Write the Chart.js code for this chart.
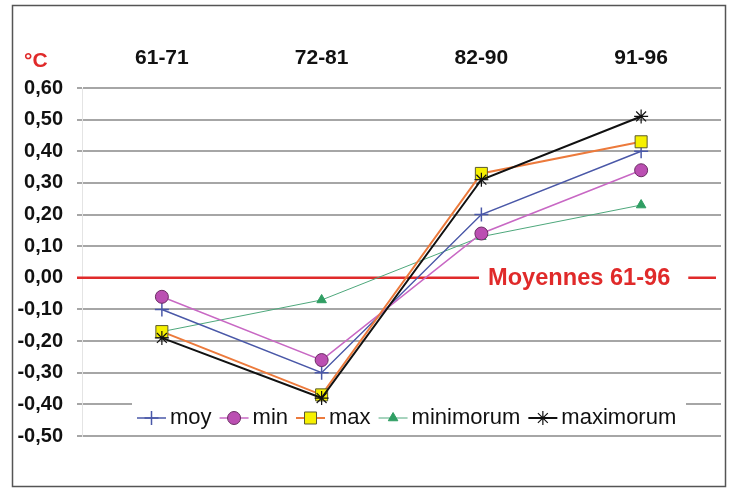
<!DOCTYPE html>
<html>
<head>
<meta charset="utf-8">
<script src="https://cdn.jsdelivr.net/npm/chart.js@4/dist/chart.umd.min.js"></script>
<style>
  html, body { margin: 0; padding: 0; background: #fff; }
  canvas { display: block; }
</style>
</head>
<body>
<canvas id="myChart" width="732" height="488"></canvas>
<script>
const categories = ['61-71', '72-81', '82-90', '91-96'];
const moy = [-0.10, -0.30, 0.20, 0.40];
const minValues = [-0.06, -0.26, 0.14, 0.34];
const maxValues = [-0.17, -0.37, 0.33, 0.43];
const minimorum = [-0.17, -0.07, 0.13, 0.23];
const maximorum = [-0.19, -0.38, 0.31, 0.51];
const yMin = -0.5;
const yMax = 0.6;
const yStep = 0.1;
const unitLabel = '°C';
const refLabel = 'Moyennes 61-96';

const FONT = '"Liberation Sans", Arial, sans-serif';

function formatTick(v) {
    if (Math.abs(v) < 1e-9) return '0,00';
    return v.toFixed(2).replace('.', ',');
}

// white background + outer frame + unit label
const framePlugin = {
    id: 'frame',
    beforeDraw(chart) {
        const c = chart.ctx;
        c.save();
        c.fillStyle = '#fff';
        c.fillRect(0, 0, chart.width, chart.height);
        c.restore();
    },
    afterDraw(chart) {
        const c = chart.ctx;
        c.save();
        c.strokeStyle = '#555';
        c.lineWidth = 1.5;
        c.strokeRect(12.5, 5.5, 713, 481);
        c.fillStyle = '#e02a2a';
        c.font = 'bold 21px ' + FONT;
        c.textBaseline = 'middle';
        c.textAlign = 'left';
        c.fillText(unitLabel, 24, 61);
        c.restore();
    }
};

// red reference line at 0 and the legend inside the plot
const refLinePlugin = {
    id: 'refLine',
    beforeDatasetsDraw(chart) {
        const c = chart.ctx;
        const area = chart.chartArea;
        const y = chart.scales.y.getPixelForValue(0);
        c.save();
        c.font = 'bold 23.6px ' + FONT;
        const textLeft = 488;
        const textW = c.measureText(refLabel).width;
        c.strokeStyle = '#e02a2a';
        c.lineWidth = 2.5;
        c.beginPath();
        c.moveTo(area.left - 5, y);
        c.lineTo(textLeft - 9, y);
        c.moveTo(textLeft + textW + 18, y);
        c.lineTo(area.right - 5, y);
        c.stroke();
        c.fillStyle = '#e02a2a';
        c.textBaseline = 'middle';
        c.fillText(refLabel, textLeft, y + 1);

        // legend
        const ly = 418;
        c.fillStyle = '#fff';
        c.fillRect(132, 399, 554, 33);
        c.font = '22px ' + FONT;
        let x = 137;
        chart.data.datasets.forEach(ds => {
            c.strokeStyle = ds.borderColor;
            c.lineWidth = ds.borderWidth;
            c.beginPath();
            c.moveTo(x, ly);
            c.lineTo(x + 29, ly);
            c.stroke();
            c.fillStyle = ds.pointBackgroundColor;
            c.strokeStyle = ds.pointBorderColor;
            c.lineWidth = ds.pointBorderWidth;
            Chart.helpers.drawPoint(c, {
                pointStyle: ds.pointStyle,
                radius: ds.pointRadius,
                borderWidth: ds.pointBorderWidth,
                rotation: 0
            }, x + 14.5, ly);
            c.fillStyle = '#111';
            c.textBaseline = 'middle';
            c.fillText(ds.label, x + 33, ly);
            x += 33 + c.measureText(ds.label).width + 8;
        });
        c.restore();
    }
};

new Chart(document.getElementById('myChart'), {
    type: 'line',
    data: {
        labels: categories,
        datasets: [
            {
                label: 'moy', data: moy, order: 3,
                borderColor: '#4a58a8', borderWidth: 1.5,
                pointStyle: 'cross', pointRadius: 7,
                pointBackgroundColor: '#4a58a8', pointBorderColor: '#4a58a8', pointBorderWidth: 1.5
            },
            {
                label: 'min', data: minValues, order: 2,
                borderColor: '#c868c4', borderWidth: 1.5,
                pointStyle: 'circle', pointRadius: 6.5,
                pointBackgroundColor: '#bb4fb2', pointBorderColor: '#6b2d63', pointBorderWidth: 1
            },
            {
                label: 'max', data: maxValues, order: 1,
                borderColor: '#ec7a3c', borderWidth: 2,
                pointStyle: 'rect', pointRadius: 8.5,
                pointBackgroundColor: '#f6f000', pointBorderColor: '#5a5a30', pointBorderWidth: 1
            },
            {
                label: 'minimorum', data: minimorum, order: 4,
                borderColor: '#4ea87c', borderWidth: 1,
                pointStyle: 'triangle', pointRadius: 5.5,
                pointBackgroundColor: '#2f9e63', pointBorderColor: '#2f9e63', pointBorderWidth: 1
            },
            {
                label: 'maximorum', data: maximorum, order: 0,
                borderColor: '#111', borderWidth: 2,
                pointStyle: 'star', pointRadius: 7,
                pointBackgroundColor: '#111', pointBorderColor: '#111', pointBorderWidth: 1.2
            }
        ]
    },
    options: {
        responsive: false,
        animation: false,
        layout: { padding: { left: 0, top: 0, right: 11, bottom: 52 } },
        plugins: {
            legend: { display: false },
            tooltip: { enabled: false }
        },
        scales: {
            x: {
                type: 'category',
                position: 'top',
                offset: true,
                grid: { display: false, drawTicks: false },
                border: { display: false },
                ticks: {
                    color: '#111',
                    font: { family: FONT, size: 21, weight: 'bold' },
                    padding: 17,
                    maxRotation: 0
                },
                afterFit(s) { s.height = 88; }
            },
            y: {
                min: yMin,
                max: yMax,
                grid: {
                    color: ctx => Math.abs(ctx.tick.value) < 1e-9 ? 'rgba(0,0,0,0)' : '#a6a6a6',
                    lineWidth: 2,
                    tickLength: 5
                },
                border: { display: true, color: '#e4e4e4', width: 1 },
                ticks: {
                    stepSize: yStep,
                    color: '#111',
                    font: { family: FONT, size: 20, weight: 'bold' },
                    padding: 14,
                    callback: v => formatTick(v)
                },
                afterFit(s) { s.width = 82; }
            }
        }
    },
    plugins: [framePlugin, refLinePlugin]
});
</script>
</body>
</html>
